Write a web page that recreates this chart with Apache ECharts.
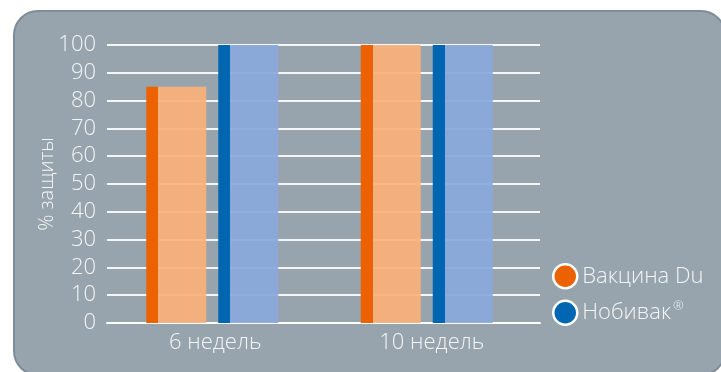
<!DOCTYPE html>
<html>
<head>
<meta charset="utf-8">
<style>
  html, body { margin: 0; padding: 0; background: #ffffff; }
  #chart { width: 721px; height: 372px; }
</style>
<script src="https://cdn.jsdelivr.net/npm/echarts@6/dist/echarts.min.js"></script>
</head>
<body>
<div id="chart"></div>
<script>
// Protection rate (%) after vaccination
const categories = ['6 недель', '10 недель'];
const seriesNames = ['Вакцина Du', 'Нобивак®'];
const vaccineDu = [85, 100];
const nobivac = [100, 100];
const yTicks = [0, 10, 20, 30, 40, 50, 60, 70, 80, 90, 100];

const FONT = '"Open Sans", "Noto Sans", sans-serif';
const TEXT = '#f3f5f6';
const Y_MIN = yTicks[0];
const Y_MAX = yTicks[yTicks.length - 1];
const Y_STEP = yTicks[1] - yTicks[0];

// bar fill: a solid darker stripe on the left edge, lighter translucent body
function stripeFill(dark, light) {
  return new echarts.graphic.LinearGradient(0, 0, 1, 0, [
    { offset: 0, color: dark },
    { offset: 0.2, color: dark },
    { offset: 0.2, color: light },
    { offset: 1, color: light }
  ]);
}

const chart = echarts.init(document.getElementById('chart'), null, { renderer: 'canvas' });

chart.setOption({
  animation: false,
  backgroundColor: '#ffffff',
  graphic: {
    elements: [{
      type: 'rect',
      z: -10,
      silent: true,
      shape: { x: 14, y: 11, width: 711, height: 364, r: 24 },
      style: { fill: '#97a4ad', stroke: '#7f8d98', lineWidth: 2 }
    }]
  },
  // grid 0 carries the axes and gridlines, grid 1 places the bar groups
  grid: [
    { left: 107, right: 181, top: 45, bottom: 49 },
    { left: 105, right: 187, top: 45, bottom: 49 }
  ],
  legend: {
    orient: 'vertical',
    left: 547,
    top: 258,
    itemWidth: 24,
    itemHeight: 24,
    itemGap: 10,
    icon: 'circle',
    // the registered-mark sign is set as a small raised glyph
    formatter: function (name) {
      return name.replace('®', '{sup|®}');
    },
    textStyle: {
      color: TEXT, fontSize: 22, fontFamily: FONT, fontWeight: 300,
      rich: {
        sup: { color: TEXT, fontSize: 13, fontFamily: FONT, fontWeight: 300, padding: [0, 0, 12, 2] }
      }
    },
    data: [
      { name: seriesNames[0], itemStyle: { color: '#ec6200', borderColor: '#ffffff', borderWidth: 2.5 } },
      { name: seriesNames[1], itemStyle: { color: '#0066b2', borderColor: '#ffffff', borderWidth: 2.5 } }
    ]
  },
  xAxis: [
    {
      type: 'category',
      gridIndex: 0,
      data: categories,
      axisTick: { show: false },
      axisLine: { lineStyle: { color: '#ffffff', width: 2 } },
      axisLabel: { color: TEXT, fontSize: 22, fontFamily: FONT, fontWeight: 300, margin: 9 }
    },
    {
      type: 'category',
      gridIndex: 1,
      data: categories,
      show: false
    }
  ],
  yAxis: [
    {
      type: 'value',
      gridIndex: 0,
      min: Y_MIN,
      max: Y_MAX,
      interval: Y_STEP,
      name: '% защиты',
      nameLocation: 'middle',
      nameGap: 50,
      nameMoveOverlap: false,
      nameTextStyle: { color: TEXT, fontSize: 20, fontFamily: FONT, fontWeight: 300 },
      axisLine: { show: false },
      axisTick: { show: false },
      axisLabel: { color: TEXT, fontSize: 22, fontFamily: FONT, fontWeight: 300, margin: 11 },
      splitLine: { lineStyle: { color: 'rgba(255,255,255,0.9)', width: 2 } }
    },
    {
      type: 'value',
      gridIndex: 1,
      min: Y_MIN,
      max: Y_MAX,
      interval: Y_STEP,
      show: false,
      splitLine: { show: false }
    }
  ],
  series: [
    {
      name: seriesNames[0],
      type: 'bar',
      xAxisIndex: 1,
      yAxisIndex: 1,
      data: vaccineDu,
      barWidth: 60,
      barGap: '20%',
      itemStyle: { color: stripeFill('#ec6200', 'rgba(250,177,122,0.92)') }
    },
    {
      name: seriesNames[1],
      type: 'bar',
      xAxisIndex: 1,
      yAxisIndex: 1,
      data: nobivac,
      barWidth: 60,
      barGap: '20%',
      itemStyle: { color: stripeFill('#0066b2', 'rgba(137,168,220,0.92)') }
    }
  ]
});
</script>
</body>
</html>
